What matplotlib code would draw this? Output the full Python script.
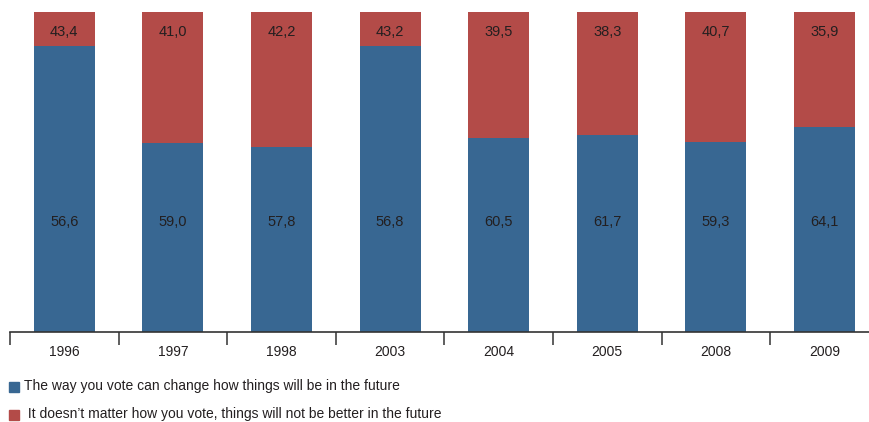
import numpy as np
import matplotlib.pyplot as plt

# Survey years and shares (%), as printed on the bars
years = ["1996", "1997", "1998", "2003", "2004", "2005", "2008", "2009"]
can_change = [56.6, 59.0, 57.8, 56.8, 60.5, 61.7, 59.3, 64.1]
doesnt_matter = [43.4, 41.0, 42.2, 43.2, 39.5, 38.3, 40.7, 35.9]
# Blue heights as actually drawn in the source (1996 and 2003 are drawn taller)
can_change_drawn = [89.4, 59.0, 57.8, 89.4, 60.5, 61.7, 59.3, 64.1]

legend_labels = [
    "The way you vote can change how things will be in the future",
    " It doesn\u2019t matter how you vote, things will not be better in the future",
]

blue = "#386792"
red = "#b34b48"
text_color = "#231f20"

plt.rcParams["font.family"] = ["Liberation Sans", "DejaVu Sans"]

fig = plt.figure(figsize=(8.7, 4.22), dpi=100)
W, H = 870, 422
ax = fig.add_axes([10 / W, 90 / H, 8 * 108.6 / W, 320 / H])

x = np.arange(len(years))
red_drawn = [100 - b for b in can_change_drawn]
ax.bar(x, can_change_drawn, width=0.56, color=blue, zorder=2)
ax.bar(x, red_drawn, bottom=can_change_drawn, width=0.56, color=red, zorder=2)

for i in range(len(years)):
    ax.text(x[i], 34.4, f"{can_change[i]:.1f}".replace(".", ","),
            ha="center", va="center", fontsize=10.5, color=text_color, zorder=3)
    ax.text(x[i], 93.7, f"{doesnt_matter[i]:.1f}".replace(".", ","),
            ha="center", va="center", fontsize=10.5, color=text_color, zorder=3)

ax.set_xlim(-0.5, len(years) - 0.5)
ax.set_ylim(0, 100)
for side in ["top", "right", "left"]:
    ax.spines[side].set_visible(False)
ax.spines["bottom"].set_color("#333333")
ax.spines["bottom"].set_linewidth(1.2)
ax.spines["bottom"].set_zorder(4)
ax.set_yticks([])

ax.set_xticks(x - 0.5, minor=False)
ax.set_xticklabels([])
ax.tick_params(axis="x", which="major", direction="out", length=9, width=1.1, color="#333333")
ax.set_xticks(x, minor=True)
ax.set_xticklabels(years, minor=True)
ax.tick_params(axis="x", which="minor", length=0, pad=9, labelsize=10, labelcolor=text_color)

# Legend drawn as squares plus text
fig.patches.append(plt.Rectangle((9 / W, (H - 392) / H), 10 / W, 10 / H,
                                 transform=fig.transFigure, color=blue, figure=fig))
fig.text(24 / W, (H - 386) / H, legend_labels[0], fontsize=10, color=text_color, va="center")
fig.patches.append(plt.Rectangle((9 / W, (H - 420) / H), 10 / W, 10 / H,
                                 transform=fig.transFigure, color=red, figure=fig))
fig.text(24 / W, (H - 414) / H, legend_labels[1], fontsize=10, color=text_color, va="center")

fig.savefig("out.png", dpi=100)
